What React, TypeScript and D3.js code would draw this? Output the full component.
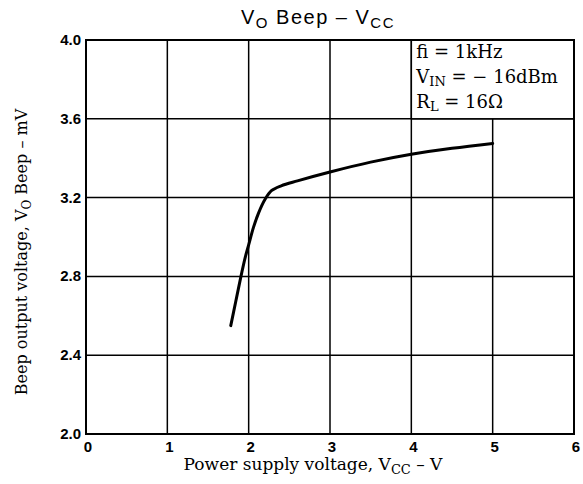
import React from 'react';
import * as d3 from 'd3';

// supply voltage (V) vs beep output (mV)
const vcc = [1.78, 1.84, 1.9, 1.96, 2.0, 2.06, 2.12, 2.2, 2.28, 2.4, 2.6, 3.0, 3.5, 4.0, 4.5, 5.0];
const vout = [2.55, 2.67, 2.79, 2.9, 2.96, 3.05, 3.12, 3.19, 3.235, 3.26, 3.285, 3.33, 3.38, 3.42, 3.45, 3.475];
const xTicks = [0, 1, 2, 3, 4, 5, 6];
const yTicks = [2.0, 2.4, 2.8, 3.2, 3.6, 4.0];

export default function App() {
  const left = 86, right = 574, top = 40, bottom = 434;
  const x = d3.scaleLinear().domain([0, 6]).range([left, right]);
  const y = d3.scaleLinear().domain([2, 4]).range([bottom, top]);
  const pts = vcc.map((v, i) => [v, vout[i]] as [number, number]);
  const line = d3.line<[number, number]>().x(d => x(d[0])).y(d => y(d[1])).curve(d3.curveCatmullRom);

  const sans = 'Liberation Sans, Arial, sans-serif';
  const serif = 'DejaVu Serif, serif';

  return (
    <svg width={583} height={484} style={{ position: 'absolute', left: 0, top: 0, background: '#fff' }}>
      <rect width={583} height={484} fill="#fff" />
      {/* grid */}
      {xTicks.slice(1, -1).map(t => (
        <line key={'gx' + t} x1={x(t)} x2={x(t)} y1={top} y2={bottom} stroke="#000" strokeWidth={1.5} />
      ))}
      {yTicks.slice(1, -1).map(t => (
        <line key={'gy' + t} x1={left} x2={right} y1={y(t)} y2={y(t)} stroke="#000" strokeWidth={1.5} />
      ))}
      {/* legend box */}
      <rect x={x(4)} y={y(4)} width={x(6) - x(4)} height={y(3.6) - y(4)} fill="#fff" stroke="#000" strokeWidth={1.5} />
      <g fontFamily={serif} fontSize={18} fill="#000">
        <text x={x(4) + 5} y={y(4) + 18}>fi = 1kHz</text>
        <text x={x(4) + 5} y={y(4) + 43}>V<tspan fontSize={13} dy={3}>IN</tspan><tspan dy={-3}> = − 16dBm</tspan></text>
        <text x={x(4) + 5} y={y(4) + 68}>R<tspan fontSize={13} dy={3}>L</tspan><tspan dy={-3}> = 16Ω</tspan></text>
      </g>
      {/* frame */}
      <rect x={left} y={top} width={right - left} height={bottom - top} fill="none" stroke="#000" strokeWidth={2} />
      {/* curve */}
      <path d={line(pts) ?? ''} fill="none" stroke="#000" strokeWidth={3} strokeLinecap="round" />
      {/* ticks */}
      <g fontFamily={sans} fontSize={15} fontWeight="bold" fill="#000">
        {xTicks.map(t => (
          <text key={'tx' + t} x={x(t) + 2} y={bottom + 18} textAnchor="middle">{t}</text>
        ))}
        {yTicks.map(t => (
          <text key={'ty' + t} x={left - 5} y={y(t) + 5} textAnchor="end">{t.toFixed(1)}</text>
        ))}
      </g>
      {/* title */}
      <text x={318} y={24} textAnchor="middle" fontFamily={sans} fontSize={20} letterSpacing={1.5}>
        V<tspan fontSize={15} dy={4}>O</tspan><tspan dy={-4}> Beep – V</tspan><tspan fontSize={15} dy={4}>CC</tspan>
      </text>
      {/* axis labels */}
      <text x={313} y={470} textAnchor="middle" fontFamily={serif} fontSize={17}>
        Power supply voltage, V<tspan fontSize={13} dy={4}>CC</tspan><tspan dy={-4}> – V</tspan>
      </text>
      <text transform={`translate(27,252) rotate(-90)`} textAnchor="middle" fontFamily={serif} fontSize={16}>
        Beep output voltage, V<tspan fontSize={12} dy={4}>O</tspan><tspan dy={-4}> Beep – mV</tspan>
      </text>
    </svg>
  );
}
